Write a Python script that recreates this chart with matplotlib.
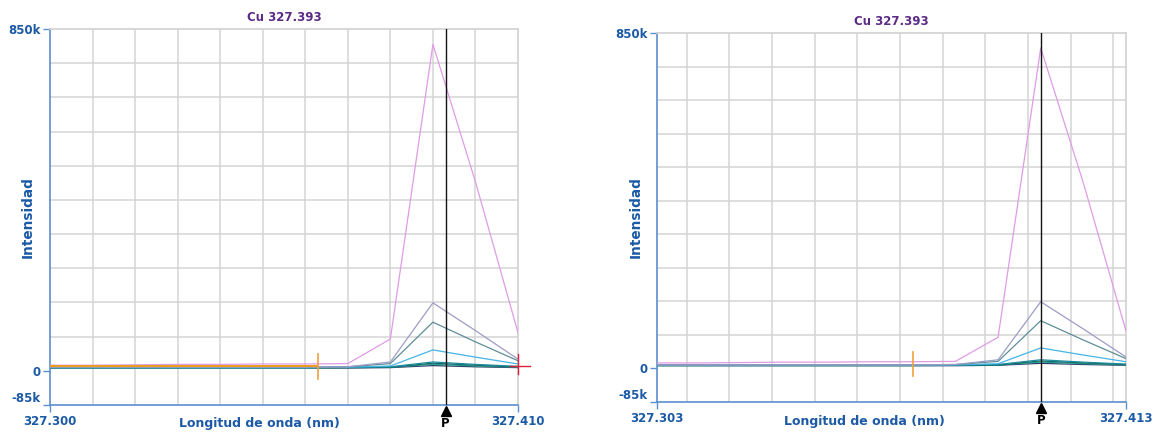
import numpy as np
import matplotlib
matplotlib.use("Agg")
import matplotlib.pyplot as plt
from matplotlib.transforms import blended_transform_factory

plt.rcParams['font.family'] = ['DejaVu Sans']

# ---- spectral data (intensity in counts) ----
element_line = "Cu 327.393"
peak_wl = 327.393

wl_left = [327.300, 327.310, 327.320, 327.330, 327.340, 327.350,
           327.360, 327.370, 327.380, 327.390, 327.400, 327.410]
wl_right = [327.303, 327.313, 327.323, 327.333, 327.343, 327.353,
            327.363, 327.373, 327.383, 327.393, 327.403, 327.413]

std_high = [14000, 14000, 15000, 16000, 16000, 17000, 17000, 18000, 79000, 812000, 470000, 95000]
std_4 = [9000, 9000, 9000, 9000, 9000, 9000, 9000, 10000, 22000, 169000, 100000, 29000]
std_3 = [9000, 9000, 9000, 9000, 9000, 9000, 9000, 10000, 18000, 121000, 72000, 25000]
std_2 = [8000, 8000, 8000, 8000, 8000, 8000, 8000, 9000, 12000, 52000, 34000, 17000]
sample_1 = [8000, 8000, 8000, 8000, 8000, 8000, 8000, 9000, 10000, 22000, 16000, 11000]
sample_2 = [8000, 8000, 8000, 8000, 8000, 8000, 8000, 8000, 9000, 19000, 14000, 10000]
sample_3 = [7000, 7000, 7000, 7000, 7000, 7000, 7000, 8000, 9000, 16000, 12000, 9000]
blank = [7000, 7000, 7000, 7000, 7000, 7000, 7000, 7000, 8000, 13000, 10000, 8000]

series_colors = ['#2b3a67', '#2a9d8f', '#0d6b6b', '#1f8a9a', '#45b5e5', '#5e8e98', '#9d9cc6', '#e09be6']
series_values = [blank, sample_3, sample_2, sample_1, std_2, std_3, std_4, std_high]

# background correction points
bg_left_wl = 327.363
bg_level = 11000
bg_right_wl = 327.410

x_ranges = [(327.300, 327.410), (327.303, 327.413)]
y_range = (-85000, 850000)
y_ticks = [-85000, 0, 850000]
y_ticklabels = ['-85k', '0', '850k']

text_blue = '#1c5aa6'
spine_blue = '#5a8fd0'
grid_gray = '#d4d4d4'
title_purple = '#5b2a86'

fig = plt.figure(figsize=(11.59, 4.33), dpi=100)
W, H = 1159, 433
axL = fig.add_axes([50 / W, 28 / H, 468 / W, 376 / H])
axR = fig.add_axes([657 / W, 31 / H, 469 / W, 369 / H])


def draw_panel(ax, wl, xr, left_panel):
    xmin, xmax = xr
    ax.set_xlim(xmin, xmax)
    ax.set_ylim(*y_range)

    # grid
    gx = np.arange(np.ceil(xmin / 0.01 - 1e-6) * 0.01, xmax + 1e-9, 0.01)
    ax.set_xticks(gx, minor=True)
    ax.set_yticks(np.arange(y_range[0], y_range[1] + 1, 85000), minor=True)
    ax.grid(True, which='minor', color=grid_gray, lw=1.1, zorder=0)
    ax.set_axisbelow(True)

    ax.set_xticks([xmin, xmax])
    ax.set_xticklabels([f"{xmin:.3f}", f"{xmax:.3f}"], fontweight='bold',
                       color=text_blue, fontsize=8.5)
    ax.set_yticks(y_ticks)
    ax.set_yticklabels(y_ticklabels, fontweight='bold', color=text_blue, fontsize=8.5)
    ax.tick_params(which='major', length=5, color=spine_blue, width=1, pad=2)
    ax.tick_params(which='minor', length=0)
    ax.get_yticklabels()[0].set_va('bottom')

    for side in ['left', 'bottom']:
        ax.spines[side].set_color(spine_blue)
        ax.spines[side].set_linewidth(1.2)
    for side in ['top', 'right']:
        ax.spines[side].set_color(grid_gray)
        ax.spines[side].set_linewidth(1.3)

    # spectra
    for vals, col in zip(series_values, series_colors):
        ax.plot(wl, vals, color=col, lw=0.9, zorder=3)

    if left_panel:
        ax.plot([xmin, bg_left_wl], [bg_level, bg_level], color='#e8a01a', lw=1.4, zorder=4)
        # right background marker
        ax.plot([bg_right_wl - 0.0019, bg_right_wl + 0.0028], [bg_level, bg_level],
                color='#e0203a', lw=1.0, zorder=5, clip_on=False)
        ax.plot([bg_right_wl, bg_right_wl], [-8000, 42000], color='#e0203a',
                lw=1.0, zorder=5, clip_on=False)

    # left background marker
    ax.plot([bg_left_wl, bg_left_wl], [-20000, 42000], color='#f0a040', lw=1.2, zorder=5)

    # peak line
    ax.axvline(peak_wl, color='#111111', lw=1.0, zorder=6)
    trans = blended_transform_factory(ax.transData, ax.transAxes)
    ax.plot([peak_wl], [-0.017], marker='^', color='black', markersize=7,
            transform=trans, clip_on=False, zorder=7)
    ax.text(peak_wl, -0.05, 'P', transform=trans, ha='center', va='center',
            fontweight='bold', fontsize=8.5, color='black')

    ax.set_title(element_line, color=title_purple, fontweight='bold', fontsize=8.5, pad=5.5)


draw_panel(axL, wl_left, x_ranges[0], True)
draw_panel(axR, wl_right, x_ranges[1], False)

axL.text(-0.047, 0.5, 'Intensidad', rotation=90, transform=axL.transAxes,
         ha='center', va='center', fontweight='bold', fontsize=9.8, color=text_blue)
axR.text(-0.045, 0.5, 'Intensidad', rotation=90, transform=axR.transAxes,
         ha='center', va='center', fontweight='bold', fontsize=9.8, color=text_blue)
axL.text(0.447, -0.05, 'Longitud de onda (nm)', transform=axL.transAxes,
         ha='center', va='center', fontweight='bold', fontsize=9, color=text_blue)
axR.text(0.443, -0.053, 'Longitud de onda (nm)', transform=axR.transAxes,
         ha='center', va='center', fontweight='bold', fontsize=9, color=text_blue)

fig.savefig('out.png', dpi=100)
